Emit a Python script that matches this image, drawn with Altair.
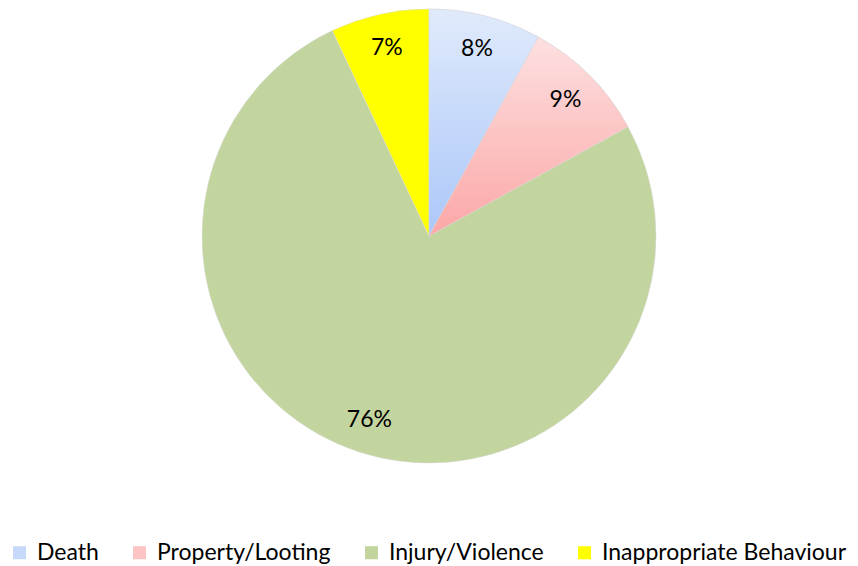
import altair as alt
import pandas as pd

categories = ["Death", "Property/Looting", "Injury/Violence", "Inappropriate Behaviour"]
values = [8, 9, 76, 7]
labels = ["8%", "9%", "76%", "7%"]
legend_colors = ["#c6d9fa", "#fcc4c4", "#c3d59e", "#ffff00"]

df = pd.DataFrame({
    "category": categories,
    "value": values,
    "label": labels,
    "order": list(range(len(categories))),
})

FONT = "Lato"
R = 227

base = alt.Chart(df).transform_window(
    cum="sum(value)", sort=[alt.SortField("order")], frame=[None, 0]
).transform_calculate(
    start="datum.cum - datum.value",
    mid="datum.cum - datum.value / 2",
)

theta_scale = alt.Scale(domain=[0, 100])

arcs = base.mark_arc(outerRadius=R, stroke="#d8d8d8", strokeWidth=0.5).encode(
    theta=alt.Theta("start:Q", scale=theta_scale),
    theta2="cum:Q",
    color=alt.Color(
        "category:N",
        scale=alt.Scale(domain=categories, range=legend_colors),
        sort=categories,
        legend=alt.Legend(
            title=None,
            orient="none",
            direction="horizontal",
            legendX=0,
            legendY=533,
            symbolType="square",
            symbolSize=170,
            symbolStrokeWidth=0,
            labelFont=FONT,
            labelFontSize=23,
            labelLimit=0,
            labelColor="#000000",
            labelOffset=6,
            columnPadding=29,
        ),
    ),
)

def grad(top, bottom):
    return alt.LinearGradient(
        gradient="linear",
        stops=[alt.GradientStop(offset=0, color=top), alt.GradientStop(offset=1, color=bottom)],
        x1=0, x2=0, y1=0, y2=1,
    )

death = base.transform_filter(alt.datum.category == "Death").mark_arc(
    outerRadius=R, fill=grad("#e0eafb", "#abc7f9"), stroke="#d8d8d8", strokeWidth=0.5
).encode(theta=alt.Theta("start:Q", scale=theta_scale), theta2="cum:Q")

prop = base.transform_filter(alt.datum.category == "Property/Looting").mark_arc(
    outerRadius=R, fill=grad("#fde0e0", "#fca7a7"), stroke="#d8d8d8", strokeWidth=0.5
).encode(theta=alt.Theta("start:Q", scale=theta_scale), theta2="cum:Q")

text = base.mark_text(radius=193, font=FONT, fontSize=23, color="#000000").encode(
    theta=alt.Theta("mid:Q", scale=theta_scale),
    text="label:N",
)

chart = alt.layer(arcs, death, prop, text).properties(
    width=842, height=456
).configure_view(stroke=None).configure(padding=0)

chart.save("out.html", embed_options={"renderer": "svg", "actions": False})
